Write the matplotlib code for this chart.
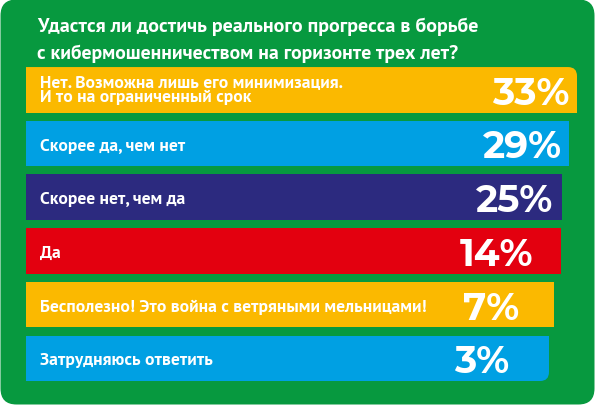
import matplotlib
matplotlib.use("Agg")
import matplotlib.pyplot as plt
from matplotlib import font_manager as fm
from matplotlib.font_manager import FontProperties
from matplotlib.patches import FancyBboxPatch

# ---- data ----
title = ("Удастся ли достичь реального прогресса в борьбе\n"
         "с кибермошенничеством на горизонте трех лет?")
categories = [
    "Нет. Возможна лишь его минимизация.\nИ то на ограниченный срок",
    "Скорее да, чем нет",
    "Скорее нет, чем да",
    "Да",
    "Бесполезно! Это война с ветряными мельницами!",
    "Затрудняюсь ответить",
]
values = [33, 29, 25, 14, 7, 3]
bar_lengths = [551, 543, 536, 535, 528, 523]   # drawn lengths
colors = ["#fbb900", "#00a0e3", "#2c2a7f", "#e3000f", "#fbb900", "#00a0e3"]

GREEN = "#07993f"


def font_by_name(name, weight=700, fallback="DejaVu Sans"):
    for f in fm.fontManager.ttflist:
        if f.name == name and f.weight == weight and f.style == "normal" \
                and "[" not in f.fname:
            return FontProperties(fname=f.fname)
    return FontProperties(family=fallback, weight="bold")


def font_from_files(files, family, weight="bold"):
    for fn in files:
        for f in fm.fontManager.ttflist:
            if f.fname.split("/")[-1] == fn:
                return FontProperties(fname=f.fname)
    return FontProperties(family=family, weight=weight)


textfont = font_by_name("PT Sans", 700)
pctfont = font_from_files(["Montserrat-Bold.ttf", "MontserratAlternates-Bold.ttf",
                           "Montserrat-SemiBold.ttf"], "Lato")

W, H = 595, 406
fig = plt.figure(figsize=(W / 100, H / 100), dpi=100)
fig.patch.set_facecolor("white")
ax = fig.add_axes([0, 0, 1, 1])
ax.set_xlim(0, W)
ax.set_ylim(H, 0)
ax.axis("off")

# green rounded background
bg = FancyBboxPatch((0.5, 0.5), W - 1, H - 1,
                    boxstyle="round,pad=0,rounding_size=16",
                    fc=GREEN, ec="none", zorder=0)
ax.add_patch(bg)

# title
tl = title.split("\n")
ax.text(37, 32, tl[0], fontproperties=textfont, size=14.4,
        color="white", ha="left", va="baseline")
ax.text(37, 59, tl[1], fontproperties=textfont, size=14.2,
        color="white", ha="left", va="baseline")

left = 26
bar_h = 45.5
y0 = 90.8
step = 53.7
ys = [y0 + i * step for i in range(len(values))]

bars = ax.barh(ys, bar_lengths, left=left, height=bar_h, color=colors,
               edgecolor="none", zorder=2)

# rounded corners: top-right of first bar, bottom-right of last bar
r = 9
first = bars[0]
x, yb, w, h = first.get_x(), first.get_y(), first.get_width(), first.get_height()
clip1 = FancyBboxPatch((x - 30, yb), w + 30, h + 30,
                       boxstyle=f"round,pad=0,rounding_size={r}",
                       transform=ax.transData, fc="none", ec="none")
ax.add_patch(clip1)
first.set_clip_path(clip1)
last = bars[-1]
x, yb, w, h = last.get_x(), last.get_y(), last.get_width(), last.get_height()
clip2 = FancyBboxPatch((x - 30, yb - 30), w + 30, h + 30,
                       boxstyle=f"round,pad=0,rounding_size={r}",
                       transform=ax.transData, fc="none", ec="none")
ax.add_patch(clip2)
last.set_clip_path(clip2)

# labels
LS = 12.6
for i, (lab, y) in enumerate(zip(categories, ys)):
    lines = lab.split("\n")
    if len(lines) == 1:
        ax.text(40, y + 6, lines[0], fontproperties=textfont, size=LS,
                color="white", ha="left", va="baseline", zorder=3)
    else:
        ax.text(40, y - 3.8, lines[0], fontproperties=textfont, size=LS,
                color="white", ha="left", va="baseline", zorder=3)
        ax.text(40, y + 11.6, lines[1], fontproperties=textfont, size=LS,
                color="white", ha="left", va="baseline", zorder=3)

# percentages
pct_right = [569, 562, 553, 533, 519, 509]
for v, y, xr in zip(values, ys, pct_right):
    ax.text(xr, y + 14, f"{v}%", fontproperties=pctfont, size=27,
            color="white", ha="right", va="baseline", zorder=3)

fig.savefig("out.png", dpi=100, facecolor="white")
